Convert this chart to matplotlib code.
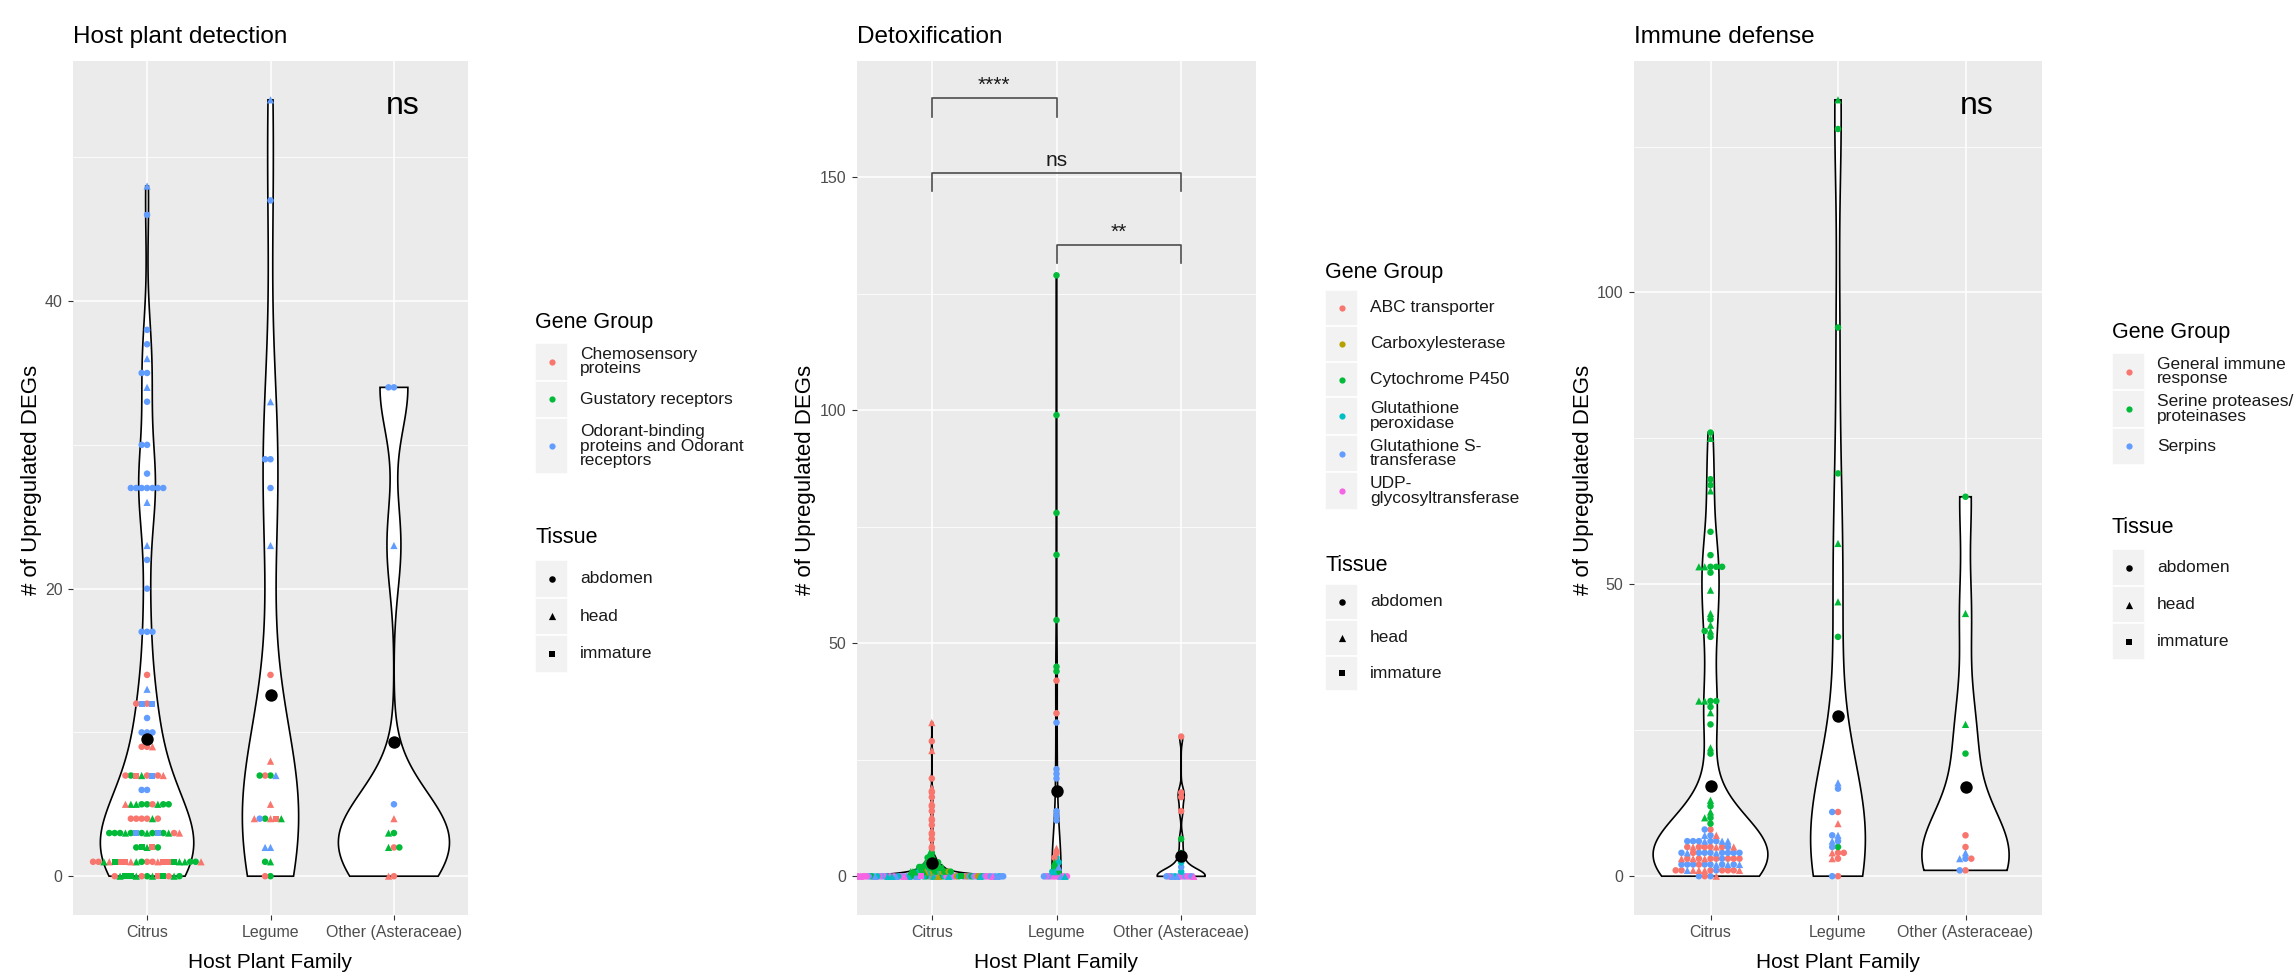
import numpy as np
import matplotlib
matplotlib.use("Agg")
import matplotlib.pyplot as plt
from matplotlib.patches import Rectangle

plt.rcParams['font.family'] = ['Liberation Sans', 'DejaVu Sans']

# ---------------------------------------------------------------- data
CATEGORIES = ["Citrus", "Legume", "Other (Asteraceae)"]
TISSUE_LABELS = ["abdomen", "head", "immature"]
TISSUE_CODES = "ahi"
Y_LABEL = "# of Upregulated DEGs"
X_LABEL = "Host Plant Family"

# Panel 1: Host plant detection  (rows: value, gene-group codes, tissue codes)
HPD_TITLE = "Host plant detection"
HPD_GROUP_LABELS = ["Chemosensory\nproteins", "Gustatory receptors",
                    "Odorant-binding\nproteins and Odorant\nreceptors"]
HPD_CODES = "CGO"
HPD_CITRUS = [
    (0, "GCGGCGGGCGGCG", "aahhiiiiahhaa"),
    (1, "CGCGCCCCCCGGGCGGGCGCC", "aaahhhiiiiiihhhhaaaah"),
    (2, "GGCGG", "hiiaa"),
    (3, "GGGOOGGGGGCGCG", "haaiiaahhaaaha"),
    (4, "CCGCCC", "aahaaa"),
    (5, "GGCGGGGCG", "aaahhhaha"),
    (6, "OO", "aa"),
    (7, "CGOCCGCC", "ahiiaaha"),
    (9, "CCC", "aah"),
    (10, "OOO", "aaa"),
    (11, "O", "a"),
    (12, "COOC", "aiia"),
    (13, "O", "h"),
    (14, "C", "a"),
    (17, "OOO", "aaa"),
    (20, "O", "a"),
    (22, "O", "a"),
    (23, "O", "h"),
    (26, "O", "h"),
    (27, "OOOOOOO", "aaaaaaa"),
    (28, "O", "a"),
    (30, "OO", "aa"),
    (33, "O", "a"),
    (34, "O", "h"),
    (35, "OO", "aa"),
    (36, "O", "h"),
    (37, "O", "a"),
    (38, "O", "a"),
    (46, "O", "a"),
    (48, "O", "h"),
]
HPD_LEGUME = [
    (0, "GC", "aa"),
    (1, "GG", "ha"),
    (2, "OO", "hh"),
    (4, "CGCOGC", "haiahh"),
    (5, "C", "h"),
    (7, "GCOG", "aaha"),
    (8, "C", "h"),
    (14, "C", "a"),
    (23, "O", "h"),
    (27, "O", "a"),
    (29, "OO", "aa"),
    (33, "O", "h"),
    (47, "O", "a"),
    (54, "O", "h"),
]
HPD_OTHER = [
    (0, "CC", "ah"),
    (2, "CGG", "aha"),
    (3, "GG", "ah"),
    (4, "C", "h"),
    (5, "O", "a"),
    (23, "O", "h"),
    (34, "OO", "aa"),
]

# Panel 2: Detoxification
DETOX_TITLE = "Detoxification"
DETOX_GROUP_LABELS = ["ABC transporter", "Carboxylesterase", "Cytochrome P450",
                      "Glutathione\nperoxidase", "Glutathione S-\ntransferase",
                      "UDP-\nglycosyltransferase"]
DETOX_CODES = "ABPXSU"
DETOX_CITRUS = [
    (0, "PBXSUPBXSU" "PSXSUBXSUP" "SXUSBUXSPU" "SXUSBUSXPU" "SXUSBUXSPU"
        "SXUSUXSPUS" "SUSUXUSUSU",
        "aahaaahaai" "aaahaahaaa" "ahaaahaaia" "aaahaaahaa" "ahaaaahaaa"
        "aaahaaaaha" "aahaaaahaa"),
    (1, "PBPXPBPPXPBPPXPPBPPP", "ahahahahahahahahahah"),
    (2, "PPPPPPPPPPPP", "hahahahahaha"),
    (3, "PPPPPPP", "ahahaha"),
    (4, "PPPP", "haha"),
    (5, "PP", "ah"),
    (6, "A", "a"), (7, "A", "h"), (8, "A", "a"), (9, "A", "a"),
    (10, "A", "h"), (11, "A", "a"), (12, "A", "a"), (13, "A", "h"),
    (14, "A", "a"), (15, "A", "a"), (16, "A", "h"), (17, "A", "a"),
    (18, "A", "a"), (19, "A", "h"),
    (21, "A", "a"), (27, "A", "h"), (29, "A", "a"), (33, "A", "h"),
]
DETOX_LEGUME = [
    (0, "UUUUSUUSXUUS", "aaaahaaahaaa"),
    (1, "BXPX", "ahaa"),
    (2, "XPS", "aah"),
    (3, "BPX", "aha"),
    (4, "XA", "aa"),
    (5, "A", "a"),
    (6, "A", "h"),
    (12, "S", "a"), (13, "S", "a"), (14, "S", "a"), (21, "S", "a"),
    (22, "S", "a"), (23, "S", "a"), (33, "S", "a"),
    (35, "A", "a"), (42, "A", "a"),
    (44, "P", "a"), (45, "P", "a"), (55, "P", "a"), (69, "P", "a"),
    (78, "P", "a"), (99, "P", "a"), (129, "P", "a"),
]
DETOX_OTHER = [
    (0, "UUUSSXUSUXSUUS", "aaahaaahaaaaha"),
    (1, "X", "a"), (2, "S", "a"), (3, "X", "a"), (5, "P", "a"), (8, "P", "a"),
    (14, "A", "a"), (17, "A", "a"), (18, "A", "a"), (30, "A", "a"),
]
DETOX_BRACKETS = [  # (from category, to category, label, height)
    (1, 2, "****", 167.0),
    (1, 3, "ns", 151.0),
    (2, 3, "**", 135.6),
]

# Panel 3: Immune defense
IMMUNE_TITLE = "Immune defense"
IMMUNE_GROUP_LABELS = ["General immune\nresponse", "Serine proteases/\nproteinases", "Serpins"]
IMMUNE_CODES = "RGB"
IMMUNE_CITRUS = [
    (0, "BRRB", "aaha"),
    (1, "RRBRRRRBRRRR", "ahahahahaaha"),
    (2, "BBBRBBBBBBB", "aahaaahaaah"),
    (3, "RRRRBRRRRRR", "ahaaahaaaha"),
    (4, "BBBBBRBBBBB", "aahaaaahaaa"),
    (5, "RRRRRRBRR", "aahaahaah"),
    (6, "BBBBBBBB", "ahaahaha"),
    (7, "BBR", "ahh"),
    (8, "RB", "aa"),
    (9, "G", "a"), (10, "GG", "ah"), (11, "G", "h"), (12, "G", "a"), (13, "G", "h"),
    (21, "G", "a"), (22, "G", "h"), (26, "G", "a"), (28, "G", "h"), (29, "G", "a"),
    (30, "GGGG", "ahah"),
    (41, "G", "a"), (42, "GG", "ha"), (43, "G", "h"), (44, "G", "a"), (45, "G", "h"),
    (49, "G", "h"), (52, "G", "a"),
    (53, "GGGGG", "ahaha"),
    (55, "G", "a"), (59, "G", "a"), (66, "G", "h"), (67, "G", "a"), (68, "G", "a"),
    (75, "G", "h"), (76, "G", "a"),
]
IMMUNE_LEGUME = [
    (0, "RB", "aa"), (3, "RR", "ah"), (4, "RRR", "aha"), (5, "GB", "aa"),
    (6, "BB", "ah"), (7, "BB", "ha"), (9, "R", "h"), (11, "RB", "aa"),
    (15, "B", "a"), (16, "B", "h"),
    (41, "G", "a"), (47, "G", "h"), (57, "G", "h"), (69, "G", "a"),
    (94, "G", "a"), (128, "G", "a"), (133, "G", "h"),
]
IMMUNE_OTHER = [
    (1, "RB", "aa"), (3, "BBR", "aha"), (4, "B", "h"), (5, "R", "a"), (7, "R", "a"),
    (21, "G", "a"), (26, "G", "h"), (45, "G", "h"), (65, "G", "a"),
]

# ---------------------------------------------------------------- style
PAL3 = ["#F8766D", "#00BA38", "#619CFF"]
PAL6 = ["#F8766D", "#B79F00", "#00BA38", "#00BFC4", "#619CFF", "#F564E3"]
MARKERS = {"a": ("o", 22), "h": ("^", 27), "i": ("s", 19)}
W, H = 2294, 973
fig = plt.figure(figsize=(W / 100, H / 100), dpi=100)


def px_axes(l, t, r, b):
    return fig.add_axes([l / W, 1 - b / H, (r - l) / W, (b - t) / H])


def nrd0(x):
    hi = np.std(x, ddof=1)
    q75, q25 = np.percentile(x, [75, 25])
    lo = min(hi, (q75 - q25) / 1.34)
    if lo == 0:
        lo = hi if hi > 0 else 1.0
    return 0.9 * lo * len(x) ** -0.2


def kde(x, grid, bw):
    z = (grid[:, None] - x[None, :]) / bw
    return np.exp(-0.5 * z * z).sum(1) / (len(x) * bw * np.sqrt(2 * np.pi))


def expand(rows, codes):
    vals, grp, tis = [], [], []
    for v, g, t in rows:
        for gc, tc in zip(g, t):
            vals.append(v)
            grp.append(codes.index(gc))
            tis.append(tc)
    return np.array(vals, float), np.array(grp), np.array(tis)


def swarm(ypix, d):
    order = np.argsort(ypix, kind="stable")
    xs = np.zeros(len(ypix))
    px, py = [], []
    for i in order:
        y = ypix[i]
        nb = [(a, b) for a, b in zip(px, py) if abs(b - y) < d]
        cands = [0.0]
        for a, b in nb:
            dx = np.sqrt(max(d * d - (b - y) ** 2, 0.0))
            cands += [a - dx, a + dx]
        cands.sort(key=lambda c: (abs(c), c))
        chosen = cands[-1]
        for c in cands:
            if all((c - a) ** 2 + (y - b) ** 2 >= d * d - 1e-6 for a, b in nb):
                chosen = c
                break
        xs[i] = chosen
        px.append(chosen)
        py.append(y)
    return xs


def draw_panel(ax, groups_rows, codes, colors, ylim, major, minor, spacing):
    ax.set_facecolor("#EBEBEB")
    ax.set_xlim(0.4, 3.6)
    ax.set_ylim(*ylim)
    ax.set_yticks(major)
    ax.set_yticks(minor, minor=True)
    ax.set_xticks([1, 2, 3])
    ax.set_xticklabels(CATEGORIES)
    ax.grid(which="major", color="white", lw=1.1)
    ax.grid(which="minor", axis="y", color="white", lw=0.55)
    ax.set_axisbelow(True)
    for s in ax.spines.values():
        s.set_visible(False)
    ax.tick_params(which="major", length=3.5, width=0.8, color="#333333",
                   labelcolor="#4D4D4D", labelsize=11.5, pad=4)
    ax.tick_params(which="minor", length=0)

    data = [expand(r, codes) for r in groups_rows]
    dens = []
    for vals, _, _ in data:
        g = np.linspace(vals.min(), vals.max(), 512)
        dens.append((g, kde(vals, g, nrd0(vals))))
    mx = max(dd.max() for _, dd in dens)
    for k, (g, dd) in enumerate(dens):
        pos = k + 1
        hw = dd / mx * 0.45
        ax.fill(np.concatenate([pos - hw, (pos + hw)[::-1]]),
                np.concatenate([g, g[::-1]]),
                facecolor="white", edgecolor="black", lw=1.2, zorder=2)

    bbox = ax.get_window_extent()
    pxu_x = bbox.width / 3.2
    for k, (vals, grp, tis) in enumerate(data):
        pos = k + 1
        ypix = ax.transData.transform(np.column_stack([np.full(len(vals), pos), vals]))[:, 1]
        xd = pos + swarm(ypix, spacing) / pxu_x
        for tc, (m, s) in MARKERS.items():
            sel = tis == tc
            if sel.any():
                ax.scatter(xd[sel], vals[sel], s=s, marker=m,
                           c=[colors[j] for j in grp[sel]], linewidths=0, zorder=3)
        ax.scatter([pos], [vals.mean()], s=80, color="black", linewidths=0, zorder=5)


# ---------------------------------------------------------------- panels
ax1 = px_axes(73, 61, 468, 915)
draw_panel(ax1, [HPD_CITRUS, HPD_LEGUME, HPD_OTHER], HPD_CODES, PAL3,
           (-2.7, 56.7), [0, 20, 40], [10, 30, 50], 5.4)
ax1.text(3.07, 53.0, "ns", fontsize=23, ha="center", va="baseline")

ax2 = px_axes(857, 61, 1256, 915)
draw_panel(ax2, [DETOX_CITRUS, DETOX_LEGUME, DETOX_OTHER], DETOX_CODES, PAL6,
           (-8.3, 175.0), [0, 50, 100, 150], [25, 75, 125], 2.1)
for c1, c2, lab, yb in DETOX_BRACKETS:
    ax2.plot([c1, c1, c2, c2], [yb - 4, yb, yb, yb - 4], color="#4D4D4D", lw=1.2, zorder=6)
    ax2.annotate(lab, ((c1 + c2) / 2, yb), xytext=(0, 5), textcoords="offset points",
                 ha="center", va="baseline", fontsize=15, color="#1A1A1A")

ax3 = px_axes(1634, 61, 2042, 915)
draw_panel(ax3, [IMMUNE_CITRUS, IMMUNE_LEGUME, IMMUNE_OTHER], IMMUNE_CODES, PAL3,
           (-6.65, 139.65), [0, 50, 100], [25, 75, 125], 5.8)
ax3.text(3.09, 130.5, "ns", fontsize=23, ha="center", va="baseline")

# ---------------------------------------------------------------- overlay text / legends
ov = fig.add_axes([0, 0, 1, 1])
ov.set_xlim(0, W)
ov.set_ylim(H, 0)
ov.axis("off")

for ax, title, ylx in [(ax1, HPD_TITLE, 32), (ax2, DETOX_TITLE, 805), (ax3, IMMUNE_TITLE, 1584)]:
    bb = ax.get_window_extent()
    left, right = bb.x0, bb.x1
    ov.text(left, 43, title, fontsize=17.5, ha="left", va="baseline")
    ov.text((left + right) / 2, 968, X_LABEL, fontsize=15, ha="center", va="baseline")
    ov.text(ylx, 480, Y_LABEL, fontsize=16, ha="center", va="center", rotation=90)


def draw_legend(x, labels, colors, gene_base, gene_top, tissue_base, tissue_top, row_h):
    ov.text(x, gene_base, "Gene Group", fontsize=15.5, ha="left", va="baseline")
    y = gene_top
    for lab, col in zip(labels, colors):
        n = lab.count("\n") + 1
        h = max(row_h, n * 18.7)
        ov.add_patch(Rectangle((x, y), 33, h, facecolor="#F2F2F2", edgecolor="white", lw=1.2))
        ov.scatter([x + 16.5], [y + h / 2], s=20, color=col, linewidths=0)
        ov.text(x + 45, y + h / 2, lab, fontsize=12.5, ha="left", va="center",
                linespacing=0.95, color="#1A1A1A")
        y += h
    ov.text(x, tissue_base, "Tissue", fontsize=15.5, ha="left", va="baseline")
    y = tissue_top
    for lab, tc in zip(TISSUE_LABELS, TISSUE_CODES):
        m, s = MARKERS[tc]
        ov.add_patch(Rectangle((x, y), 33, row_h, facecolor="#F2F2F2", edgecolor="white", lw=1.2))
        ov.scatter([x + 16.5], [y + row_h / 2], s=s, marker=m, color="black", linewidths=0)
        ov.text(x + 45, y + row_h / 2, lab, fontsize=12.5, ha="left", va="center", color="#1A1A1A")
        y += row_h


draw_legend(535, HPD_GROUP_LABELS, PAL3, 328, 343, 543, 560, 37.5)
draw_legend(1325, DETOX_GROUP_LABELS, PAL6, 278, 290, 571, 584, 35.8)
draw_legend(2112, IMMUNE_GROUP_LABELS, PAL3, 338, 353, 533, 549, 37)

fig.savefig("out.png", dpi=100, facecolor="white")
